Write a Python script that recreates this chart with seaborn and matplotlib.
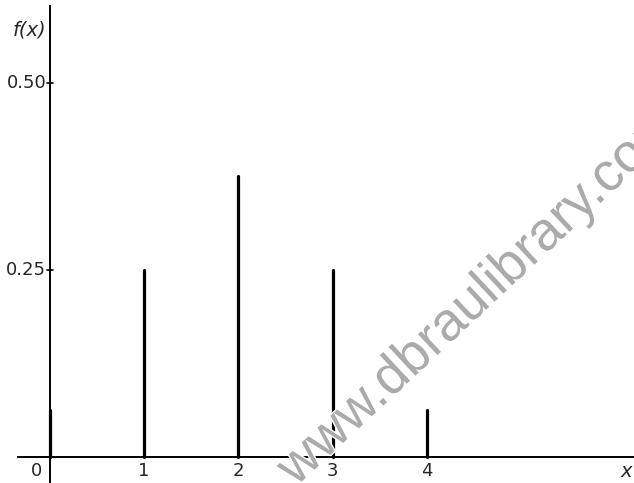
import numpy as np
import pandas as pd
import matplotlib
matplotlib.use("Agg")
import matplotlib.pyplot as plt
import matplotlib.patheffects as pe
import seaborn as sns

# Probability mass function values
x_values = [0, 1, 2, 3, 4]
fx_values = [0.0625, 0.25, 0.375, 0.25, 0.0625]
x_tick_labels = ["0", "1", "2", "3", "4"]
y_ticks = [0.25, 0.50]
y_tick_labels = ["0.25", "0.50"]

sns.set_theme(style="white")
plt.rcParams["font.family"] = ["DejaVu Sans"]

# Long-form table: each stem is a segment from 0 up to f(x)
stems = pd.DataFrame({
    "x": np.repeat(x_values, 2),
    "fx": np.ravel([[0.0, v] for v in fx_values]),
    "stem": np.repeat(x_values, 2),
})

fig = plt.figure(figsize=(6.34, 4.83), dpi=100)
W, H = 634, 483

# Watermark behind the chart
fig.text(296 / W, -4 / H, "www.dbraulibrary.com", rotation=43,
         rotation_mode="anchor", ha="left", va="baseline",
         fontsize=39, family=["Liberation Sans", "DejaVu Sans"],
         color="#ababab", zorder=0,
         path_effects=[pe.withStroke(linewidth=2, foreground="white")])

ax = fig.add_axes([17 / W, 0, (634 - 17) / W, (483 - 5) / H])
ax.patch.set_alpha(0)

sns.lineplot(data=stems, x="x", y="fx", units="stem", estimator=None,
             color="black", linewidth=2.3, ax=ax, legend=False)

ax.set_xlim(-0.35, 6.2)
ax.set_ylim(-0.035, 0.604)
for s in ax.spines.values():
    s.set_visible(False)
ax.set_xticks([])
ax.set_yticks([])
ax.set_xlabel("")
ax.set_ylabel("")

# Axes lines drawn through the origin
ax.axhline(0, color="black", linewidth=1.4)
ax.axvline(0, color="black", linewidth=1.4)

# Tick marks on the vertical axis
for yt in y_ticks:
    ax.plot([-0.03, 0.03], [yt, yt], color="black", linewidth=1.2)

fs = 13
for xv, lab in zip(x_values, x_tick_labels):
    xpos = xv - 0.14 if xv == 0 else xv
    ax.text(xpos, -0.019, lab, ha="center", va="center", fontsize=fs)
ax.text(6.12, -0.019, "x", ha="center", va="center", fontsize=fs + 1,
        style="italic")

for yt, lab in zip(y_ticks, y_tick_labels):
    ax.text(-0.04, yt, lab, ha="right", va="center", fontsize=fs)
ax.text(-0.04, 0.57, "f(x)", ha="right", va="center", fontsize=fs + 1,
        style="italic")

fig.savefig("out.png", dpi=100)
